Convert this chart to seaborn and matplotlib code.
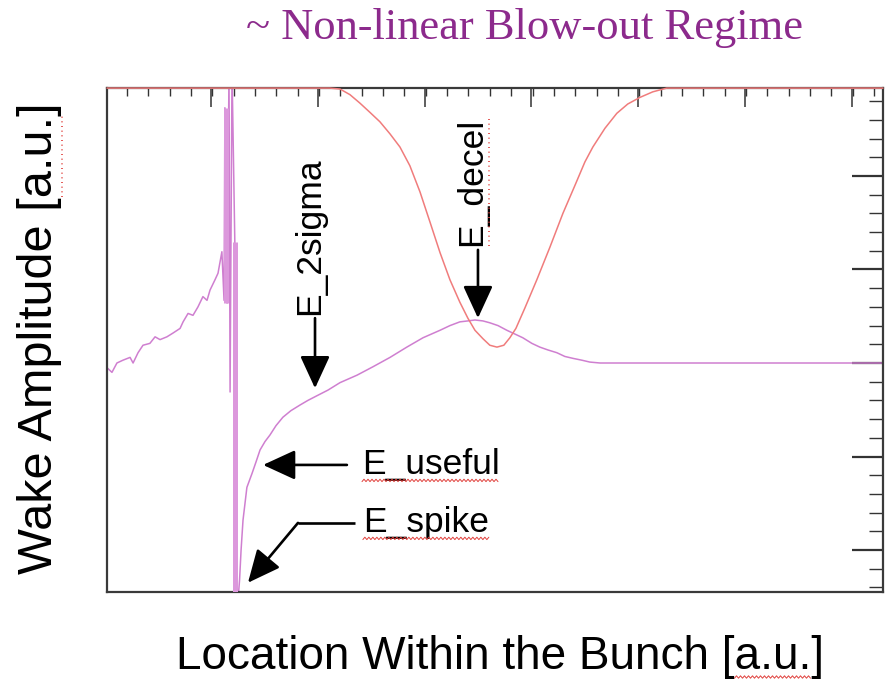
import numpy as np
import matplotlib
matplotlib.use("Agg")
import matplotlib.pyplot as plt
import seaborn as sns
from matplotlib.lines import Line2D

# ---------------------------------------------------------------------------
# Wake field along the bunch (arbitrary units)
wake_x = [0.00, 0.23, 0.46, 0.74, 1.07, 1.21, 1.44, 1.67, 1.99, 2.23, 2.46,
          2.78, 3.06, 3.39, 3.53, 3.76, 3.99, 4.22, 4.45, 4.64, 4.78, 5.01,
          5.15, 5.33,
          # spike / oscillation region
          5.43, 5.47, 5.57, 5.66, 5.71, 5.80, 5.93, 5.98, 6.08,
          # recovery and deceleration hump
          6.15, 6.22, 6.31, 6.49, 6.73, 6.91, 7.10, 7.33, 7.56, 7.84,
          8.16, 8.53, 8.95, 9.32, 9.74, 10.25, 10.81, 11.60, 12.34, 13.13,
          13.91, 14.66, 15.45, 15.91, 16.37, 16.74, 17.07, 17.44, 17.76, 18.14,
          18.55, 18.92, 19.29, 19.71, 20.08, 20.45, 20.87, 21.24, 21.61, 22.03,
          22.40, 22.87, 36.00]
wake_y = [-0.05, -0.10, 0.00, 0.03, 0.06, 0.00, 0.11, 0.19, 0.21, 0.28, 0.25,
          0.28, 0.32, 0.37, 0.44, 0.53, 0.51, 0.60, 0.71, 0.67, 0.78, 0.89,
          0.96, 1.19,
          0.67, 2.73, 0.64, 3.13, -0.31, 3.13, 1.29, -2.53, -2.53,
          -2.32, -2.00, -1.68, -1.33, -1.18, -1.06, -0.93, -0.84, -0.77, -0.67,
          -0.58, -0.51, -0.45, -0.40, -0.35, -0.29, -0.21, -0.13, -0.04, 0.06,
          0.17, 0.27, 0.35, 0.40, 0.44, 0.45, 0.46, 0.45, 0.43, 0.40,
          0.35, 0.31, 0.27, 0.21, 0.17, 0.14, 0.11, 0.07, 0.05, 0.03,
          0.01, 0.00, 0.00]

# Strong spike strokes
spike_x = [5.50, 5.96]
spike_top = [2.73, 1.29]
spike_bottom = [0.64, -2.53]

# Bunch current profile (drawn inverted, hanging from the top)
bunch_x = [0.00, 10.34, 10.81, 11.27, 11.73, 12.20, 12.66, 13.13, 13.59,
           14.05, 14.52, 14.98, 15.45, 15.91, 16.37, 16.74, 17.07, 17.44,
           17.76, 18.09, 18.41, 18.69, 18.97, 19.39, 19.94, 20.55, 21.15,
           21.71, 22.17, 22.54, 23.10, 23.65, 24.16, 24.72, 25.32, 25.97,
           36.00]
bunch_y = [2.94, 2.94, 2.93, 2.87, 2.78, 2.68, 2.58, 2.45, 2.31, 2.11, 1.83,
           1.51, 1.18, 0.89, 0.65, 0.48, 0.35, 0.26, 0.19, 0.17, 0.19, 0.27,
           0.37, 0.59, 0.89, 1.24, 1.60, 1.90, 2.15, 2.31, 2.51, 2.67, 2.77,
           2.84, 2.90, 2.94, 2.94]

title_text = "~ Non-linear Blow-out Regime"
xlabel_text = "Location Within the Bunch [a.u.]"
ylabel_text = "Wake Amplitude [a.u.]"

# ---------------------------------------------------------------------------
sns.set_theme(style="white")
plt.rcParams["font.family"] = ["Liberation Sans", "DejaVu Sans"]

W, H = 893, 686
fig = plt.figure(figsize=(W / 100, H / 100), dpi=100)
ax = fig.add_axes([107 / W, 1 - 592 / H, 776 / W, 504 / H])

wake_col = "#cf7fd0"
spike_col = "#dc98dc"
bunch_col = "#f07c7c"

sns.lineplot(x=wake_x, y=wake_y, sort=False, estimator=None,
             color=wake_col, lw=1.1, ax=ax)
ax.vlines(spike_x, spike_bottom, spike_top, colors=spike_col, lw=3.6, zorder=3)
sns.lineplot(x=bunch_x, y=bunch_y, sort=False, estimator=None,
             color=bunch_col, lw=1.1, ax=ax, clip_on=False, zorder=5)

ax.set_xlim(0, 36)
ax.set_ylim(-2.449, 2.941)

# frame and ticks
for s in ax.spines.values():
    s.set_color("#3a3a3a")
    s.set_linewidth(1.6)
ax.set_xticks(np.arange(4.84, 36, 4.95))
ax.set_xticks(np.arange(0.93, 36, 0.99), minor=True)
ax.set_yticks([-2, -1, 0, 1, 2])
ax.set_yticks(np.arange(-2.4, 2.95, 0.2), minor=True)
ax.tick_params(axis="both", which="both", direction="in", top=True,
               right=True, labelbottom=False, labelleft=False,
               color="#333333")
ax.tick_params(axis="x", which="major", length=14, width=1.1)
ax.tick_params(axis="x", which="minor", length=6, width=1.0)
ax.tick_params(axis="y", which="major", length=22, width=1.6)
ax.tick_params(axis="y", which="minor", length=10, width=1.0)
ax.set_xlabel("")
ax.set_ylabel("")

# annotations
arrow_kw = dict(arrowstyle="-|>,head_length=1.0,head_width=0.46",
                mutation_scale=20, lw=1.9, color="black",
                shrinkA=0, shrinkB=0)
ann_font = dict(fontsize=25.5, color="black")

ax.annotate("", xy=(9.65, -0.27), xytext=(9.65, 0.48), arrowprops=arrow_kw)
ax.text(9.40, 1.36, "E_2sigma", rotation=90, ha="center", va="center",
        **ann_font)

ax.annotate("", xy=(17.21, 0.48), xytext=(17.21, 1.21), arrowprops=arrow_kw)
t_decel = ax.text(16.93, 1.94, "E_decel", rotation=90, ha="center",
                  va="center", **ann_font)

ax.annotate("", xy=(7.24, -1.09), xytext=(11.13, -1.09), arrowprops=arrow_kw)
t_useful = ax.text(11.83, -1.09, "E_useful", ha="left", va="center",
                   **ann_font)

ax.plot([11.50, 8.86], [-1.71, -1.71], color="black", lw=1.9,
        solid_capstyle="butt")
ax.annotate("", xy=(6.54, -2.35), xytext=(8.86, -1.71), arrowprops=arrow_kw)
t_spike = ax.text(11.87, -1.71, "E_spike", ha="left", va="center",
                  **ann_font)

# figure texts
fig.text(525 / W, 1 - 28 / H, title_text, ha="center", va="center",
         fontsize=32, color="#8c2a8c",
         family=["Liberation Serif", "DejaVu Serif"])
t_xl = fig.text(500 / W, 1 - 657 / H, xlabel_text, ha="center",
                va="center", fontsize=33, color="black")
t_yl = fig.text(40 / W, 1 - 338 / H, ylabel_text, ha="center", va="center",
                rotation=90, fontsize=35, color="black")

# spell-check style marks under some words
fig.canvas.draw()
rend = fig.canvas.get_renderer()
inv = fig.transFigure.inverted()
red = "#e0403c"


def wavy(x0, x1, y):
    xs = np.arange(x0, x1 + 0.1, 2.0)
    ys = y + np.where(np.arange(len(xs)) % 2 == 0, -1.2, 1.2)
    pts = inv.transform(np.column_stack([xs, ys]))
    fig.add_artist(Line2D(pts[:, 0], pts[:, 1], color=red, lw=0.7,
                          transform=fig.transFigure))


def dotted_v(x, y0, y1):
    pts = inv.transform([[x, y0], [x, y1]])
    fig.add_artist(Line2D(pts[:, 0], pts[:, 1], color=red, lw=1.2,
                          linestyle=(0, (0.6, 2.2)),
                          transform=fig.transFigure))


def prefix_width(txt, s):
    w, _, _ = rend.get_text_width_height_descent(
        s, txt.get_fontproperties(), ismath=False)
    return w


for t in (t_useful, t_spike):
    bb = t.get_window_extent(rend)
    wavy(bb.x0, bb.x1, bb.y0 + 1)

bb = t_xl.get_window_extent(rend)
a0 = bb.x0 + prefix_width(t_xl, "Location Within the Bunch [")
a1 = bb.x0 + prefix_width(t_xl, "Location Within the Bunch [a.u.")
wavy(a0, a1, bb.y0 + 2)

bb = t_yl.get_window_extent(rend)
b0 = bb.y0 + prefix_width(t_yl, "Wake Amplitude [")
b1 = bb.y0 + prefix_width(t_yl, "Wake Amplitude [a.u.")
dotted_v(bb.x1 - 1, b0, b1)

bb = t_decel.get_window_extent(rend)
dotted_v(bb.x1 + 1, bb.y0, bb.y1)

fig.savefig("out.png", dpi=100, facecolor="white")
